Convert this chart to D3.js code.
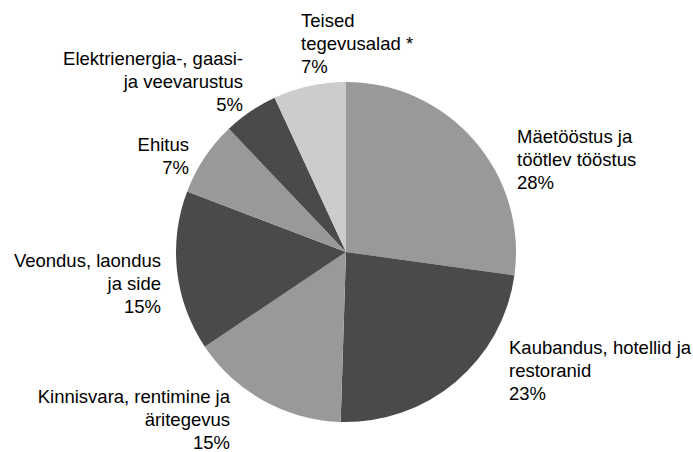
<!DOCTYPE html>
<html>
<head>
<meta charset="utf-8">
<script src="https://cdn.jsdelivr.net/npm/d3@7"></script>
<style>
  html, body { margin: 0; padding: 0; background: #fff; }
  svg { display: block; }
  text { font-family: "Liberation Sans", Arial, Helvetica, sans-serif; font-size: 18.5px; fill: #000; }
</style>
</head>
<body>
<svg id="chart" width="693" height="452"></svg>
<script>
// ---- data ----
const categories = [
  ["Mäetööstus ja", "töötlev tööstus"],
  ["Kaubandus, hotellid ja", "restoranid"],
  ["Kinnisvara, rentimine ja", "äritegevus"],
  ["Veondus, laondus", "ja side"],
  ["Ehitus"],
  ["Elektrienergia-, gaasi-", "ja veevarustus"],
  ["Teised", "tegevusalad *"]
];
const values = [27.2, 23.3, 15.1, 15.2, 7.1, 5.2, 6.9];
const pctLabels = ["28%", "23%", "15%", "15%", "7%", "5%", "7%"];

// ---- styles / layout ----
const colors = ["#999999", "#4a4a4a", "#999999", "#4a4a4a", "#999999", "#4a4a4a", "#cccccc"];
// label anchor: x, first baseline y, text-anchor
const labelLayout = [
  { x: 517, y: 143, anchor: "start" },
  { x: 509, y: 354, anchor: "start" },
  { x: 230, y: 403, anchor: "end" },
  { x: 161, y: 267, anchor: "end" },
  { x: 189, y: 151, anchor: "end" },
  { x: 243, y: 65,  anchor: "end" },
  { x: 301, y: 27,  anchor: "start" }
];
const lineH = 23;
const cx = 346, cy = 252, R = 170;

const svg = d3.select("#chart");
const g = svg.append("g").attr("transform", `translate(${cx},${cy})`);

const pie = d3.pie().sort(null).value(d => d);
const arcs = pie(values);
const arc = d3.arc().innerRadius(0).outerRadius(R);

g.selectAll("path.slice")
  .data(arcs)
  .join("path")
  .attr("class", "slice")
  .attr("d", arc)
  .attr("fill", (d, i) => colors[i]);

const labels = svg.selectAll("text.lbl")
  .data(categories)
  .join("text")
  .attr("class", "lbl")
  .attr("text-anchor", (d, i) => labelLayout[i].anchor);

labels.each(function(lines, i) {
  const t = d3.select(this);
  const L = labelLayout[i];
  const all = lines.concat([pctLabels[i]]);
  all.forEach((s, k) => {
    t.append("tspan").attr("x", L.x).attr("y", L.y + k * lineH).text(s);
  });
});
</script>
</body>
</html>
